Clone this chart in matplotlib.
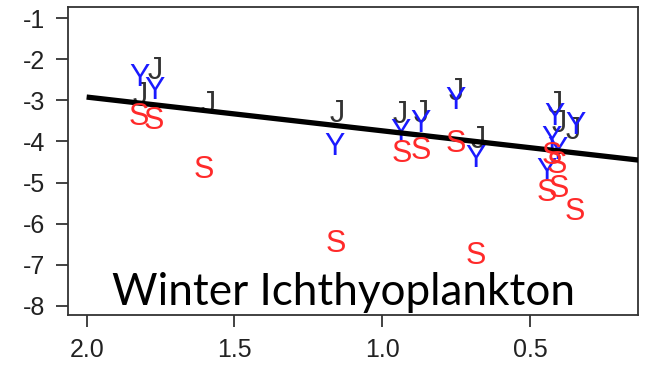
import matplotlib
matplotlib.use('Agg')
import matplotlib.pyplot as plt

plt.rcParams['axes.unicode_minus'] = False

# positions of the letters (x reversed axis)
j_x = [1.769, 1.820, 1.590, 1.154, 0.938, 0.867, 0.749, 0.675, 0.415, 0.402, 0.354]
j_y = [-2.19, -2.80, -3.02, -3.24, -3.28, -3.24, -2.70, -3.89, -3.02, -3.48, -3.65]

y_x = [1.820, 1.769, 1.161, 0.938, 0.870, 0.752, 0.685, 0.418, 0.347, 0.428, 0.408, 0.445]
y_y = [-2.36, -2.68, -4.04, -3.72, -3.48, -2.94, -4.33, -3.31, -3.55, -3.89, -4.14, -4.65]

s_x = [1.823, 1.773, 1.604, 1.158, 0.935, 0.870, 0.752, 0.685, 0.425, 0.408, 0.445, 0.404, 0.350]
s_y = [-3.31, -3.41, -4.60, -6.40, -4.21, -4.14, -3.97, -6.69, -4.28, -4.48, -5.16, -5.06, -5.62]

fit_x = [2.0, 0.1]
fit_y = [-2.92, -4.48]

xticks = [2.0, 1.5, 1.0, 0.5]
yticks = [-1, -2, -3, -4, -5, -6, -7, -8]

fig = plt.figure(figsize=(6.46, 3.68), dpi=100)
ax = fig.add_axes([68/646, 1-315/368, 570/646, 308/368])

ax.plot(fit_x, fit_y, color='black', linewidth=3.8, solid_capstyle='butt', zorder=3)

lf = 'Liberation Sans'
for x, y in zip(j_x, j_y):
    ax.text(x, y, 'J', color='#333333', fontsize=22, family=lf, ha='center', va='center_baseline', zorder=2)
for x, y in zip(y_x, y_y):
    ax.text(x, y, 'Y', color='#1a1aff', fontsize=22, family=lf, ha='center', va='center_baseline', zorder=2)
for x, y in zip(s_x, s_y):
    ax.text(x, y, 'S', color='#ff2a2a', fontsize=22, family=lf, ha='center', va='center_baseline', zorder=4)

ax.set_xlim(2.063, 0.135)
ax.set_ylim(-8.22, -0.73)
ax.set_xticks(xticks)
ax.set_xticklabels(['2.0', '1.5', '1.0', '0.5'])
ax.set_yticks(yticks)
for sp in ax.spines.values():
    sp.set_color('#333333')
    sp.set_linewidth(1.3)
ax.tick_params(direction='out', length=8.5, width=1.3, color='#333333',
               labelsize=18, labelcolor='#222222', pad=8)
for lab in ax.get_xticklabels() + ax.get_yticklabels():
    lab.set_family(lf)

ax.text(0.484, 0.032, 'Winter Ichthyoplankton', transform=ax.transAxes,
        ha='center', va='baseline', fontsize=31.7, family='Lato', color='black')

fig.savefig('out.png', dpi=100)
